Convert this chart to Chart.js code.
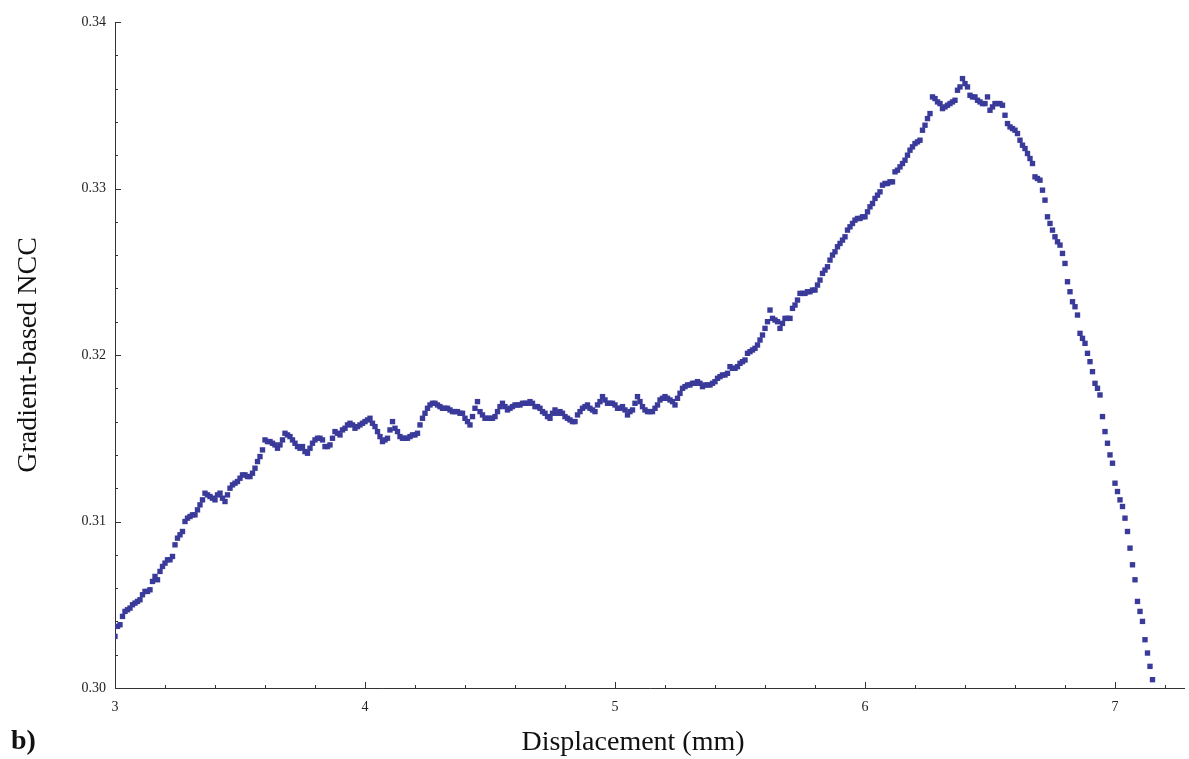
<!DOCTYPE html>
<html>
<head>
<meta charset="utf-8">
<script src="https://cdn.jsdelivr.net/npm/chart.js@4.4.0/dist/chart.umd.min.js"></script>
<style>
html, body { margin: 0; padding: 0; background: #fff; }
#wrap { position: relative; width: 1189px; height: 759px; }
</style>
</head>
<body>
<div id="wrap"><canvas id="nccChart" width="1189" height="759"></canvas></div>
<script>
// Displacement (mm), sampled every 0.01 mm
const displacement = [
  3.00,3.01,3.02,3.03,3.04,3.05,3.06,3.07,3.08,3.09,
  3.10,3.11,3.12,3.13,3.14,3.15,3.16,3.17,3.18,3.19,
  3.20,3.21,3.22,3.23,3.24,3.25,3.26,3.27,3.28,3.29,
  3.30,3.31,3.32,3.33,3.34,3.35,3.36,3.37,3.38,3.39,
  3.40,3.41,3.42,3.43,3.44,3.45,3.46,3.47,3.48,3.49,
  3.50,3.51,3.52,3.53,3.54,3.55,3.56,3.57,3.58,3.59,
  3.60,3.61,3.62,3.63,3.64,3.65,3.66,3.67,3.68,3.69,
  3.70,3.71,3.72,3.73,3.74,3.75,3.76,3.77,3.78,3.79,
  3.80,3.81,3.82,3.83,3.84,3.85,3.86,3.87,3.88,3.89,
  3.90,3.91,3.92,3.93,3.94,3.95,3.96,3.97,3.98,3.99,
  4.00,4.01,4.02,4.03,4.04,4.05,4.06,4.07,4.08,4.09,
  4.10,4.11,4.12,4.13,4.14,4.15,4.16,4.17,4.18,4.19,
  4.20,4.21,4.22,4.23,4.24,4.25,4.26,4.27,4.28,4.29,
  4.30,4.31,4.32,4.33,4.34,4.35,4.36,4.37,4.38,4.39,
  4.40,4.41,4.42,4.43,4.44,4.45,4.46,4.47,4.48,4.49,
  4.50,4.51,4.52,4.53,4.54,4.55,4.56,4.57,4.58,4.59,
  4.60,4.61,4.62,4.63,4.64,4.65,4.66,4.67,4.68,4.69,
  4.70,4.71,4.72,4.73,4.74,4.75,4.76,4.77,4.78,4.79,
  4.80,4.81,4.82,4.83,4.84,4.85,4.86,4.87,4.88,4.89,
  4.90,4.91,4.92,4.93,4.94,4.95,4.96,4.97,4.98,4.99,
  5.00,5.01,5.02,5.03,5.04,5.05,5.06,5.07,5.08,5.09,
  5.10,5.11,5.12,5.13,5.14,5.15,5.16,5.17,5.18,5.19,
  5.20,5.21,5.22,5.23,5.24,5.25,5.26,5.27,5.28,5.29,
  5.30,5.31,5.32,5.33,5.34,5.35,5.36,5.37,5.38,5.39,
  5.40,5.41,5.42,5.43,5.44,5.45,5.46,5.47,5.48,5.49,
  5.50,5.51,5.52,5.53,5.54,5.55,5.56,5.57,5.58,5.59,
  5.60,5.61,5.62,5.63,5.64,5.65,5.66,5.67,5.68,5.69,
  5.70,5.71,5.72,5.73,5.74,5.75,5.76,5.77,5.78,5.79,
  5.80,5.81,5.82,5.83,5.84,5.85,5.86,5.87,5.88,5.89,
  5.90,5.91,5.92,5.93,5.94,5.95,5.96,5.97,5.98,5.99,
  6.00,6.01,6.02,6.03,6.04,6.05,6.06,6.07,6.08,6.09,
  6.10,6.11,6.12,6.13,6.14,6.15,6.16,6.17,6.18,6.19,
  6.20,6.21,6.22,6.23,6.24,6.25,6.26,6.27,6.28,6.29,
  6.30,6.31,6.32,6.33,6.34,6.35,6.36,6.37,6.38,6.39,
  6.40,6.41,6.42,6.43,6.44,6.45,6.46,6.47,6.48,6.49,
  6.50,6.51,6.52,6.53,6.54,6.55,6.56,6.57,6.58,6.59,
  6.60,6.61,6.62,6.63,6.64,6.65,6.66,6.67,6.68,6.69,
  6.70,6.71,6.72,6.73,6.74,6.75,6.76,6.77,6.78,6.79,
  6.80,6.81,6.82,6.83,6.84,6.85,6.86,6.87,6.88,6.89,
  6.90,6.91,6.92,6.93,6.94,6.95,6.96,6.97,6.98,6.99,
  7.00,7.01,7.02,7.03,7.04,7.05,7.06,7.07,7.08,7.09,
  7.10,7.11,7.12,7.13,7.14,7.15
];

// Gradient-based NCC
const ncc = [
  0.3031,0.3037,0.3038,0.3043,0.3046,0.3047,0.3048,0.3050,0.3051,0.3052,
  0.3053,0.3056,0.3058,0.3058,0.3059,0.3064,0.3067,0.3065,0.3070,0.3073,
  0.3075,0.3077,0.3077,0.3079,0.3086,0.3090,0.3092,0.3094,0.3100,0.3102,
  0.3103,0.3104,0.3104,0.3107,0.3110,0.3113,0.3117,0.3116,0.3115,0.3114,
  0.3113,0.3116,0.3117,0.3114,0.3112,0.3116,0.3120,0.3122,0.3123,0.3124,
  0.3126,0.3128,0.3128,0.3127,0.3127,0.3129,0.3132,0.3136,0.3139,0.3143,
  0.3149,0.3148,0.3148,0.3147,0.3146,0.3144,0.3146,0.3149,0.3153,0.3152,
  0.3151,0.3149,0.3147,0.3145,0.3144,0.3145,0.3142,0.3141,0.3144,0.3147,
  0.3149,0.3150,0.3150,0.3149,0.3145,0.3145,0.3146,0.3150,0.3154,0.3153,
  0.3152,0.3155,0.3156,0.3158,0.3159,0.3158,0.3156,0.3157,0.3158,0.3159,
  0.3160,0.3161,0.3162,0.3159,0.3157,0.3154,0.3151,0.3148,0.3149,0.3150,
  0.3155,0.3160,0.3156,0.3154,0.3151,0.3150,0.3150,0.3150,0.3151,0.3152,
  0.3152,0.3153,0.3158,0.3162,0.3165,0.3168,0.3170,0.3171,0.3171,0.3170,
  0.3169,0.3168,0.3168,0.3168,0.3167,0.3166,0.3166,0.3166,0.3165,0.3165,
  0.3162,0.3160,0.3158,0.3163,0.3168,0.3172,0.3166,0.3164,0.3162,0.3162,
  0.3162,0.3162,0.3163,0.3166,0.3169,0.3171,0.3169,0.3167,0.3168,0.3169,
  0.3170,0.3170,0.3170,0.3171,0.3171,0.3171,0.3172,0.3171,0.3169,0.3169,
  0.3168,0.3166,0.3165,0.3163,0.3162,0.3165,0.3167,0.3165,0.3166,0.3165,
  0.3163,0.3162,0.3161,0.3160,0.3160,0.3164,0.3166,0.3168,0.3169,0.3170,
  0.3168,0.3167,0.3166,0.3170,0.3172,0.3175,0.3173,0.3171,0.3171,0.3171,
  0.3170,0.3168,0.3168,0.3169,0.3167,0.3164,0.3166,0.3167,0.3171,0.3175,
  0.3172,0.3169,0.3167,0.3166,0.3166,0.3166,0.3168,0.3170,0.3173,0.3174,
  0.3175,0.3174,0.3173,0.3172,0.3170,0.3174,0.3177,0.3180,0.3181,0.3182,
  0.3182,0.3183,0.3183,0.3184,0.3183,0.3181,0.3182,0.3182,0.3182,0.3183,
  0.3184,0.3186,0.3187,0.3188,0.3188,0.3189,0.3193,0.3192,0.3192,0.3193,
  0.3195,0.3196,0.3197,0.3201,0.3202,0.3203,0.3204,0.3206,0.3209,0.3212,
  0.3216,0.3220,0.3227,0.3222,0.3221,0.3220,0.3216,0.3219,0.3222,0.3222,
  0.3222,0.3228,0.3230,0.3233,0.3237,0.3237,0.3237,0.3238,0.3238,0.3239,
  0.3239,0.3242,0.3245,0.3249,0.3251,0.3253,0.3257,0.3260,0.3262,0.3265,
  0.3267,0.3269,0.3271,0.3275,0.3277,0.3279,0.3281,0.3282,0.3282,0.3283,
  0.3283,0.3286,0.3289,0.3291,0.3294,0.3296,0.3298,0.3302,0.3303,0.3303,
  0.3304,0.3304,0.3310,0.3311,0.3313,0.3315,0.3317,0.3320,0.3323,0.3325,
  0.3327,0.3328,0.3329,0.3335,0.3338,0.3342,0.3345,0.3355,0.3354,0.3352,
  0.3351,0.3348,0.3349,0.3350,0.3351,0.3352,0.3353,0.3359,0.3361,0.3366,
  0.3363,0.3361,0.3356,0.3355,0.3355,0.3353,0.3352,0.3351,0.3351,0.3355,
  0.3347,0.3349,0.3351,0.3351,0.3351,0.3350,0.3344,0.3339,0.3337,0.3336,
  0.3335,0.3333,0.3329,0.3326,0.3324,0.3321,0.3318,0.3315,0.3307,0.3306,
  0.3305,0.3299,0.3293,0.3283,0.3279,0.3275,0.3271,0.3268,0.3266,0.3261,
  0.3255,0.3244,0.3238,0.3232,0.3229,0.3224,0.3213,0.3210,0.3207,0.3201,
  0.3196,0.3190,0.3183,0.3180,0.3176,0.3163,0.3154,0.3147,0.3140,0.3135,
  0.3123,0.3118,0.3113,0.3109,0.3102,0.3094,0.3084,0.3074,0.3065,0.3052,
  0.3046,0.3040,0.3029,0.3021,0.3013,0.3005
];

const xTitle = "Displacement (mm)";
const yTitle = "Gradient-based NCC";
const panelLabel = "b)";

const serif = '"Liberation Serif", "Times New Roman", serif';
const points = displacement.map((x, i) => ({ x: x, y: ncc[i] }));

// axes lines, inward ticks and titles
const decor = {
  id: "decor",
  beforeDatasetsDraw(chart) {
    const ctx = chart.ctx;
    const a = chart.chartArea;
    const xs = chart.scales.x, ys = chart.scales.y;
    ctx.save();
    ctx.strokeStyle = "#333";
    ctx.lineWidth = 1;
    ctx.beginPath();
    ctx.moveTo(a.left + 0.5, a.top);
    ctx.lineTo(a.left + 0.5, a.bottom + 0.5);
    ctx.lineTo(a.right, a.bottom + 0.5);
    xs.ticks.forEach(t => {
      const px = Math.round(xs.getPixelForValue(t.value)) + 0.5;
      const major = Math.abs(t.value - Math.round(t.value)) < 1e-6;
      ctx.moveTo(px, a.bottom);
      ctx.lineTo(px, a.bottom - (major ? 6 : 3));
    });
    ys.ticks.forEach(t => {
      const py = Math.round(ys.getPixelForValue(t.value)) + 0.5;
      const major = Math.abs(t.value * 100 - Math.round(t.value * 100)) < 1e-6;
      ctx.moveTo(a.left, py);
      ctx.lineTo(a.left + (major ? 6 : 3), py);
    });
    ctx.stroke();

    ctx.fillStyle = "#111";
    ctx.textBaseline = "middle";
    ctx.textAlign = "center";
    ctx.font = "28px " + serif;
    ctx.fillText(xTitle, 633, 743);
    ctx.save();
    ctx.translate(29, 355);
    ctx.rotate(-Math.PI / 2);
    ctx.fillText(yTitle, 0, 0);
    ctx.restore();
    ctx.textAlign = "left";
    ctx.font = "bold 28px " + serif;
    ctx.fillText(panelLabel, 11, 742);
    ctx.restore();
  }
};

new Chart(document.getElementById("nccChart"), {
  type: "scatter",
  data: {
    datasets: [{
      data: points,
      showLine: false,
      pointStyle: "rect",
      pointRadius: 3.8,
      pointBorderWidth: 0,
      pointBackgroundColor: "#3a3a9a",
      borderColor: "#3a3a9a"
    }]
  },
  options: {
    responsive: false,
    animation: false,
    layout: { padding: { top: 22, right: 1, left: 0, bottom: 0 } },
    plugins: { legend: { display: false }, tooltip: { enabled: false } },
    scales: {
      x: {
        type: "linear",
        min: 3,
        max: 7.28,
        grid: { display: false },
        border: { display: false },
        afterFit(scale) { scale.height = 71; },
        ticks: {
          stepSize: 0.2,
          includeBounds: false,
          autoSkip: false,
          maxRotation: 0,
          padding: 3,
          color: "#222",
          font: { family: serif, size: 14 },
          callback: v => Math.abs(v - Math.round(v)) < 1e-6 ? String(Math.round(v)) : ""
        }
      },
      y: {
        min: 0.30,
        max: 0.34,
        grid: { display: false },
        border: { display: false },
        afterFit(scale) { scale.width = 115; },
        ticks: {
          stepSize: 0.002,
          includeBounds: false,
          autoSkip: false,
          padding: 1,
          color: "#222",
          font: { family: serif, size: 14 },
          callback: v => Math.abs(v * 100 - Math.round(v * 100)) < 1e-6 ? v.toFixed(2) : ""
        }
      }
    }
  },
  plugins: [decor]
});
</script>
</body>
</html>
